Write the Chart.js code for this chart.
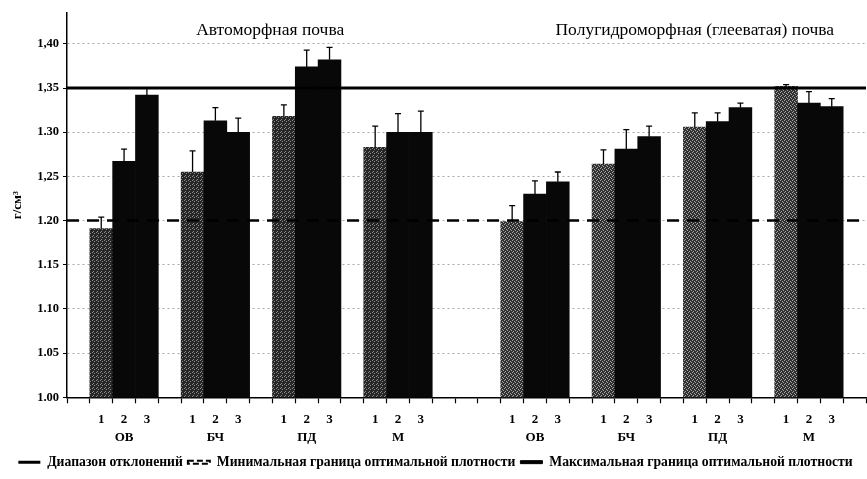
<!DOCTYPE html>
<html>
<head>
<meta charset="utf-8">
<script src="https://cdn.jsdelivr.net/npm/chart.js@4/dist/chart.umd.min.js"></script>
<style>
  html, body { margin: 0; padding: 0; background: #fff; }
  #wrap { width: 867px; height: 479px; position: relative; }
</style>
</head>
<body>
<div id="wrap"><canvas id="chart"></canvas></div>
<script>
const categories = ['ОВ', 'БЧ', 'ПД', 'М']
const soilTitles = ['Автоморфная почва', 'Полугидроморфная (глееватая) почва']

// средние значения плотности, г/см3 (варианты 1, 2, 3)
const autoMeans = [
  [1.191, 1.267, 1.342],
  [1.255, 1.313, 1.300],
  [1.318, 1.374, 1.382],
  [1.283, 1.300, 1.300],
]
const autoErrors = [
  [0.013, 0.014, 0.008],
  [0.024, 0.015, 0.016],
  [0.013, 0.019, 0.014],
  [0.024, 0.021, 0.024],
]
const hydroMeans = [
  [1.199, 1.230, 1.244],
  [1.264, 1.281, 1.295],
  [1.306, 1.312, 1.328],
  [1.352, 1.333, 1.329],
]
const hydroErrors = [
  [0.018, 0.015, 0.011],
  [0.016, 0.022, 0.012],
  [0.016, 0.010, 0.005],
  [0.002, 0.013, 0.009],
]

const minOptimal = 1.20
const maxOptimal = 1.35

const yTickValues = [1.00, 1.05, 1.10, 1.15, 1.20, 1.25, 1.30, 1.35, 1.40]
const yTickLabels = ['1.00', '1.05', '1.10', '1.15', '1.20', '1,25', '1.30', '1,35', '1,40']

const legendLabels = [
  'Диапазон отклонений',
  'Минимальная граница оптимальной плотности',
  'Максимальная граница оптимальной плотности',
]

const FONT = "'Liberation Serif', 'Times New Roman', serif"

// раскладка: пустой слот, 4 группы по 3 столбца через пустой слот,
// промежуток в 3 слота, ещё 4 группы, пустой слот в конце
const labels = []
const values = []
const errors = []
const isFirst = []
const soilOf = []

function pushEmpty() {
  labels.push('')
  values.push(null)
  errors.push(null)
  isFirst.push(false)
  soilOf.push(-1)
}

function pushSoil(means, errs, soil) {
  means.forEach((group, g) => {
    group.forEach((v, i) => {
      labels.push([String(i + 1), i === 1 ? categories[g] : ''])
      values.push(v)
      errors.push(errs[g][i])
      isFirst.push(i === 0)
      soilOf.push(soil)
    })
    if (g < means.length - 1) pushEmpty()
  })
}

pushEmpty()
pushSoil(autoMeans, autoErrors, 0)
pushEmpty()
pushEmpty()
pushEmpty()
pushSoil(hydroMeans, hydroErrors, 1)
pushEmpty()

// крапчатая заливка первого столбца
function makePattern(base, speck, dots) {
  const c = document.createElement('canvas')
  c.width = 4
  c.height = 4
  const x = c.getContext('2d')
  x.fillStyle = base
  x.fillRect(0, 0, 4, 4)
  x.fillStyle = speck
  dots.forEach(([a, b]) => x.fillRect(a, b, 1, 1))
  return x.createPattern(c, 'repeat')
}
const patAuto = makePattern('#262626', '#8c8c8c', [[0, 0], [2, 1], [1, 3]])
const patHydro = makePattern('#303030', '#a8a8a8', [[0, 0], [2, 1], [1, 3], [3, 2]])

const barColors = values.map((v, i) => {
  if (!isFirst[i]) return '#080808'
  return soilOf[i] === 0 ? patAuto : patHydro
})

const errorBars = {
  id: 'errorBars',
  afterDatasetsDraw(chart) {
    const meta = chart.getDatasetMeta(2)
    const y = chart.scales.y
    const ctx = chart.ctx
    ctx.save()
    ctx.strokeStyle = '#000'
    ctx.lineWidth = 1.3
    meta.data.forEach((bar, i) => {
      if (values[i] == null) return
      const top = y.getPixelForValue(values[i] + errors[i])
      ctx.beginPath()
      ctx.moveTo(bar.x, bar.y)
      ctx.lineTo(bar.x, top)
      ctx.moveTo(bar.x - 3, top)
      ctx.lineTo(bar.x + 3, top)
      ctx.stroke()
    })
    ctx.restore()
  },
}

const soilHeaders = {
  id: 'soilHeaders',
  afterDraw(chart) {
    const x = chart.scales.x
    const ctx = chart.ctx
    ctx.save()
    ctx.fillStyle = '#000'
    ctx.font = '17.5px ' + FONT
    ctx.textAlign = 'center'
    ctx.textBaseline = 'middle'
    ctx.fillText(soilTitles[0], x.getPixelForValue(8.4), 30)
    ctx.fillText(soilTitles[1], x.getPixelForValue(27.0), 30)
    ctx.restore()
  },
}

const ctx = document.getElementById('chart').getContext('2d')
new Chart(ctx, {
  type: 'bar',
  data: {
    labels: labels,
    datasets: [
      {
        type: 'line',
        label: legendLabels[2],
        xAxisID: 'x2',
        data: [{ x: 0, y: maxOptimal }, { x: 1, y: maxOptimal }],
        borderColor: '#000',
        borderWidth: 3,
        pointRadius: 0,
        order: 0,
      },
      {
        type: 'line',
        label: legendLabels[1],
        xAxisID: 'x2',
        data: [{ x: 0, y: minOptimal }, { x: 1, y: minOptimal }],
        borderColor: '#000',
        borderWidth: 2.5,
        borderDash: [12, 8],
        pointRadius: 0,
        order: 0,
      },
      {
        label: legendLabels[0],
        data: values,
        backgroundColor: barColors,
        borderWidth: 0,
        grouped: false,
        categoryPercentage: 1,
        barPercentage: 1,
        order: 1,
      },
    ],
  },
  options: {
    responsive: true,
    maintainAspectRatio: false,
    animation: false,
    layout: { padding: { top: 13, right: 1, left: 5, bottom: 0 } },
    plugins: {
      tooltip: { enabled: false },
      legend: {
        position: 'bottom',
        onClick: null,
        labels: {
          boxWidth: 22,
          boxHeight: 3,
          padding: 5,
          color: '#000',
          font: { family: FONT, size: 13.7, weight: 'bold' },
          generateLabels() {
            return [
              { text: legendLabels[0], fillStyle: '#000', strokeStyle: '#000', lineWidth: 0, lineDash: [] },
              { text: legendLabels[1], fillStyle: 'rgba(0,0,0,0)', strokeStyle: '#000', lineWidth: 2, lineDash: [6, 3] },
              { text: legendLabels[2], fillStyle: '#000', strokeStyle: '#000', lineWidth: 1, lineDash: [] },
            ]
          },
        },
      },
    },
    scales: {
      x: {
        offset: true,
        grid: {
          display: true,
          drawOnChartArea: false,
          offset: true,
          color: '#000',
          tickLength: 6,
          tickWidth: 1.2,
        },
        border: { color: '#000', width: 1.5 },
        afterFit(scale) {
          scale.height = 53
        },
        ticks: {
          autoSkip: false,
          maxRotation: 0,
          padding: 7,
          color: '#000',
          font: { family: FONT, size: 13, weight: 'bold', lineHeight: 1.4 },
        },
      },
      x2: {
        type: 'linear',
        display: false,
        offset: false,
        grid: { offset: false },
        min: 0,
        max: 1,
      },
      y: {
        min: 1.0,
        max: 1.435,
        afterBuildTicks(scale) {
          scale.ticks = yTickValues.map((v) => ({ value: v }))
        },
        afterFit(scale) {
          scale.width = 62
        },
        ticks: {
          padding: 4,
          color: '#000',
          font: { family: FONT, size: 12.5, weight: 'bold' },
          callback: (v, i) => yTickLabels[i],
        },
        grid: {
          color: '#a8a8a8',
          lineWidth: 1,
          tickColor: '#000',
          tickLength: 4,
        },
        border: { color: '#000', width: 1.5, dash: [2, 3] },
        title: {
          display: true,
          text: 'г/см³',
          color: '#000',
          padding: { top: 5, bottom: 0 },
          font: { family: FONT, size: 13, weight: 'bold' },
        },
      },
    },
  },
  plugins: [errorBars, soilHeaders],
})
</script>
</body>
</html>
